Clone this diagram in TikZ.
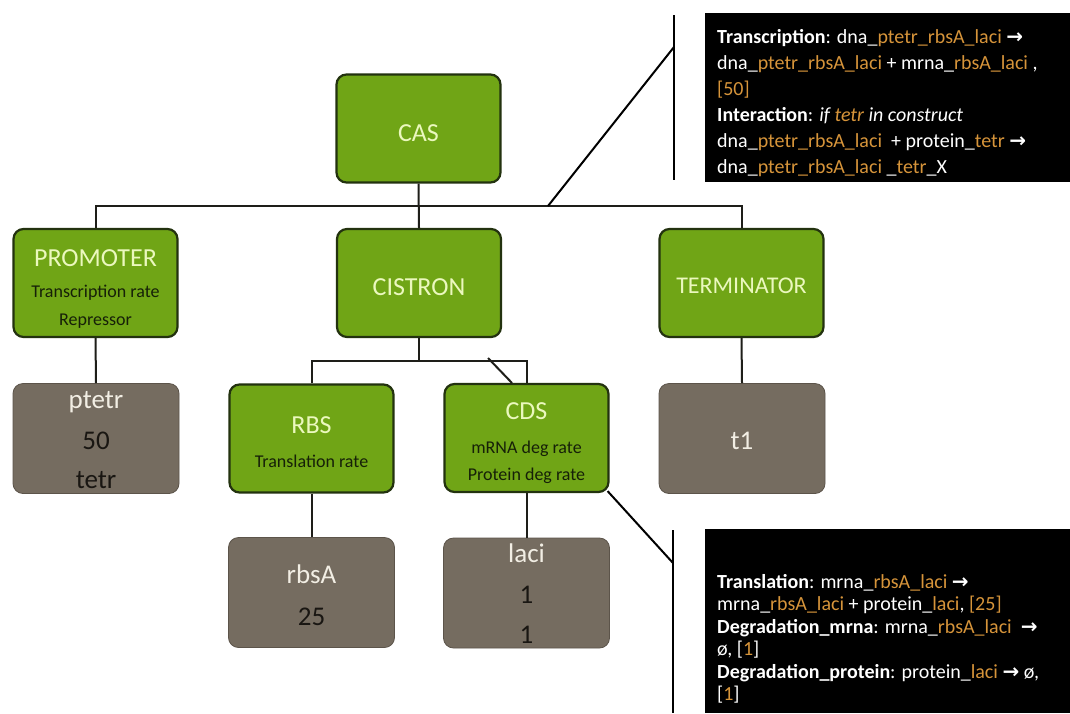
\documentclass[tikz,border=0pt]{standalone}
\usepackage{fontspec}
\setmainfont{Carlito}
\newfontfamily\arrowfont{DejaVu Sans}
\definecolor{gfill}{RGB}{112,165,22}
\definecolor{gborder}{RGB}{35,50,15}
\definecolor{grayfill}{RGB}{117,108,96}
\definecolor{grayborder}{RGB}{92,84,74}
\definecolor{titlec}{RGB}{235,248,190}
\definecolor{subc}{RGB}{22,32,8}
\definecolor{graytop}{RGB}{242,238,228}
\definecolor{graynum}{RGB}{25,22,18}
\definecolor{orng}{RGB}{214,148,58}
\definecolor{wirec}{RGB}{30,30,25}
\newcommand{\orng}[1]{\textcolor{orng}{#1}}
\newcommand{\myarr}{{\arrowfont\bfseries →}}
\begin{document}
\begin{tikzpicture}[x=1pt,y=-1pt,
  greenbox/.style={draw=gborder, line width=2.2pt, fill=gfill, rounded corners=10pt, minimum width=164pt, minimum height=108pt, inner sep=0pt},
  graybox/.style={draw=grayborder, line width=0.8pt, fill=grayfill, rounded corners=10pt, minimum width=166pt, minimum height=110pt, inner sep=0pt},
  blackbox/.style={fill=black, draw=none, inner sep=0pt, anchor=north west},
  wire/.style={draw=wirec, line width=2pt},
  ttl/.style={text=titlec, font=\fontsize{26}{30}\selectfont, anchor=base, inner sep=0pt},
  sub/.style={text=subc, font=\fontsize{18}{22}\selectfont, anchor=base, inner sep=0pt},
  gtop/.style={text=graytop, font=\fontsize{27}{32}\selectfont, anchor=base, inner sep=0pt},
  gnum/.style={text=graynum, font=\fontsize{27}{32}\selectfont, anchor=base, inner sep=0pt},
  cl/.style={text=white, font=\fontsize{20}{24}\selectfont, anchor=base west, inner sep=0pt}
]
\useasboundingbox[fill=white] (0,0) rectangle (1070,713);

% boxes
\node[greenbox] (cas) at (418.5,128.5) {};
\node[greenbox] (promoter) at (95.5,283) {};
\node[greenbox] (cistron) at (419,283) {};
\node[greenbox] (terminator) at (741.5,283) {};
\node[graybox] (ptetr) at (96,438.5) {};
\node[greenbox] (rbs) at (311.5,438.5) {};
\node[greenbox] (cds) at (526.5,438) {};
\node[graybox] (t1) at (742,438.5) {};
\node[graybox] (rbsa) at (311.5,592.5) {};
\node[graybox] (laci) at (526.5,593) {};

% connectors
\coordinate (bus) at (419,206);
\coordinate (sub) at (419,361);
\draw[wire] (cas.south) -- (cistron.north);
\draw[wire] (promoter.north) |- (bus) -| (terminator.north);
\draw[wire] (cistron.south) -- (sub);
\draw[wire] (rbs.north) |- (sub) -| (cds.north);
\draw[wire] (promoter.south) -- (ptetr.north);
\draw[wire] (terminator.south) -- (t1.north);
\draw[wire] (rbs.south) -- (rbsa.north);
\draw[wire] (cds.south) -- (laci.north);
\coordinate (odd1) at (488,358);
\coordinate (odd2) at (512,383);
\draw[wire] (odd1) -- (odd2);

% callouts
\coordinate (cb1) at (548,206);
\coordinate (ct1) at (674,47);
\coordinate (cv1a) at (674,15);
\coordinate (cv1b) at (674,180);
\draw[wire, draw=black] (cb1) -- (ct1);
\draw[wire, draw=black] (cv1a) -- (cv1b);
\coordinate (ct2) at (673,563);
\coordinate (cv2a) at (673,530);
\coordinate (cv2b) at (673,713);
\draw[wire, draw=black] (cds.south east) ++(-2,-2) -- (ct2);
\draw[wire, draw=black] (cv2a) -- (cv2b);

\node[blackbox, minimum width=365pt, minimum height=169pt] (topbox) at (705,13) {};
\node[blackbox, minimum width=365pt, minimum height=184pt] (botbox) at (705,529) {};

% green box texts
\node[ttl] (casT) at (418.5,141) {CAS};
\node[ttl] (promT) at (95.5,266) {PROMOTER};
\node[sub] (promS1) at (95.5,297) {Transcription rate};
\node[sub] (promS2) at (95.5,325) {Repressor};
\node[ttl] (cisT) at (419,295) {CISTRON};
\node[ttl, font=\fontsize{24}{28}\selectfont] (termT) at (741.5,293) {TERMINATOR};
\node[ttl] (rbsT) at (311.5,433) {RBS};
\node[sub] (rbsS) at (311.5,467) {Translation rate};
\node[ttl] (cdsT) at (526.5,419) {CDS};
\node[sub] (cdsS1) at (526.5,453) {mRNA deg rate};
\node[sub] (cdsS2) at (526.5,480) {Protein deg rate};

% gray box texts
\node[gtop] (ptetrA) at (96,408) {ptetr};
\node[gnum] (ptetrB) at (96,449) {50};
\node[gnum] (ptetrC) at (96,488) {tetr};
\node[gtop] (t1A) at (742,449) {t1};
\node[gtop] (rbsaA) at (311.5,583) {rbsA};
\node[gnum] (rbsaB) at (311.5,625) {25};
\node[gtop] (laciA) at (526.5,562) {laci};
\node[gnum] (laciB) at (526.5,603) {1};
\node[gnum] (laciC) at (526.5,643) {1};

% top callout text
\node[cl] (a1) at (717,43) {\textbf{Transcription}: dna\_\orng{ptetr\_rbsA\_laci} \myarr};
\node[cl] (a2) at (717,69) {dna\_\orng{ptetr\_rbsA\_laci} + mrna\_\orng{rbsA\_laci} ,};
\node[cl] (a3) at (717,95) {\orng{[50]}};
\node[cl] (a4) at (717,121) {\textbf{Interaction}: \textit{if \orng{tetr} in construct}};
\node[cl] (a5) at (717,147) {dna\_\orng{ptetr\_rbsA\_laci}\ \ + protein\_\orng{tetr} \myarr};
\node[cl] (a6) at (717,173) {dna\_\orng{ptetr\_rbsA\_laci} \_\orng{tetr}\_X};

% bottom callout text
\node[cl] (b1) at (717,588) {\textbf{Translation}: mrna\_\orng{rbsA\_laci} \myarr};
\node[cl] (b2) at (717,610.5) {mrna\_\orng{rbsA\_laci} + protein\_\orng{laci}, \orng{[25]}};
\node[cl] (b3) at (717,633) {\textbf{Degradation\_mrna}: mrna\_\orng{rbsA\_laci}\ \ \myarr};
\node[cl] (b4) at (717,655.5) {ø, [\orng{1}]};
\node[cl] (b5) at (717,678) {\textbf{Degradation\_protein}: protein\_\orng{laci} \myarr\ ø,};
\node[cl] (b6) at (717,700.5) {[\orng{1}]};
\end{tikzpicture}
\end{document}
